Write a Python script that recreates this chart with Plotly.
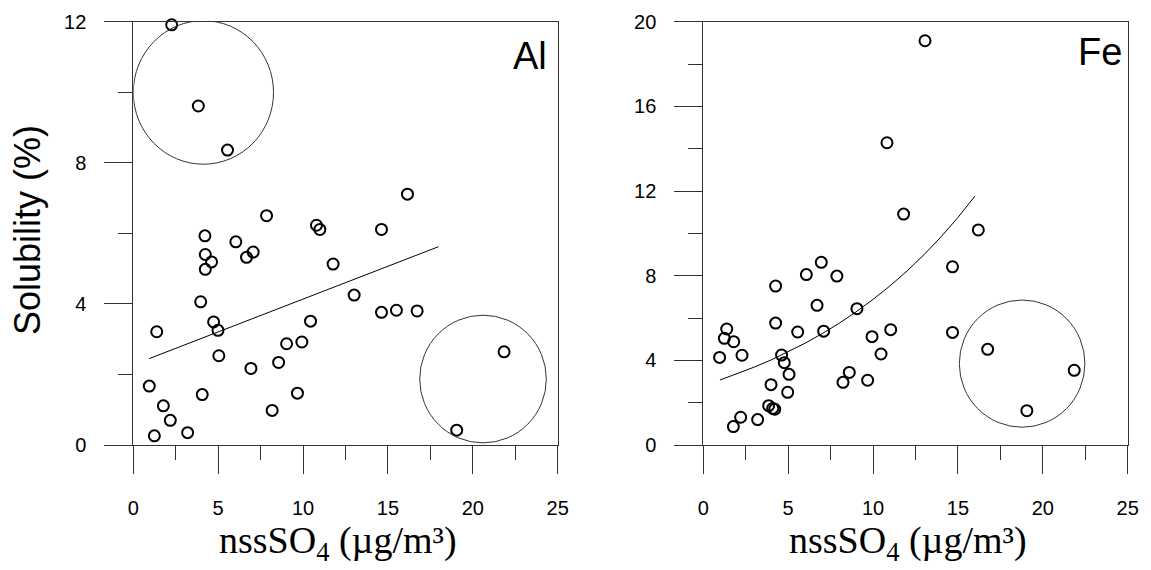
import plotly.graph_objects as go

# ---- data ----
al_x = [2.26, 3.83, 5.55, 7.85, 10.79, 10.99, 14.62, 4.22, 6.04, 4.24, 4.61, 4.24, 6.67, 7.06,
        11.77, 3.97, 13.01, 14.62, 15.50, 16.72, 16.15, 1.38, 4.73, 4.99, 10.44, 9.03, 9.93,
        5.04, 6.93, 8.56, 0.94, 4.06, 9.67, 1.77, 8.18, 2.18, 1.24, 3.20, 21.84, 19.05]
al_y = [11.91, 9.61, 8.36, 6.50, 6.23, 6.11, 6.11, 5.93, 5.76, 5.40, 5.19, 4.98, 5.32, 5.47,
        5.13, 4.06, 4.25, 3.76, 3.82, 3.80, 7.11, 3.21, 3.49, 3.25, 3.51, 2.87, 2.92,
        2.53, 2.17, 2.34, 1.67, 1.43, 1.47, 1.11, 0.98, 0.70, 0.26, 0.35, 2.64, 0.42]
al_fit_x = [0.94, 17.97]
al_fit_y = [2.45, 5.62]

fe_x = [13.06, 10.82, 11.80, 0.96, 1.38, 1.24, 1.79, 2.28, 1.77, 2.20, 3.20, 3.85, 4.09, 4.21,
        3.99, 4.97, 5.05, 4.77, 4.61, 4.26, 4.26, 5.56, 6.07, 6.95, 6.70, 7.09, 7.87, 9.05,
        8.60, 8.23, 9.68, 9.94, 10.47, 11.04, 16.20, 14.68, 14.68, 16.75, 21.85, 19.06]
fe_y = [19.10, 14.28, 10.91, 4.14, 5.48, 5.04, 4.88, 4.24, 0.87, 1.31, 1.20, 1.86, 1.73, 1.69,
        2.85, 2.49, 3.34, 3.89, 4.25, 5.76, 7.51, 5.34, 8.05, 8.63, 6.60, 5.38, 7.98, 6.44,
        3.43, 2.96, 3.06, 5.12, 4.30, 5.45, 10.16, 8.42, 5.32, 4.52, 3.53, 1.62]
fe_fit_x = [0.98, 2, 3, 4, 5, 6, 7, 8, 9, 10, 11, 12, 13, 14, 15, 16.0]
fe_fit_y = [3.07, 3.36, 3.68, 4.02, 4.40, 4.81, 5.26, 5.75, 6.29, 6.88, 7.52, 8.22, 8.99, 9.83, 10.75, 11.76]

# outlier circles (data coordinates): x0, x1, y0, y1
al_circles = [[0.0, 8.26, 7.96, 12.03], [16.87, 24.33, 0.06, 3.68]]
fe_circles = [[15.08, 22.48, 0.84, 6.85]]

x_ticks = [0, 5, 10, 15, 20, 25]
al_y_ticks = [0, 4, 8, 12]
fe_y_ticks = [0, 4, 8, 12, 16, 20]

W, H = 1151, 570
LC = "#333333"
marker = dict(symbol="circle-open", size=11, color="black", line=dict(width=2, color="black"))

fig = go.Figure()
fig.add_trace(go.Scatter(x=al_x, y=al_y, mode="markers", marker=marker, xaxis="x", yaxis="y",
                         cliponaxis=False, showlegend=False))
fig.add_trace(go.Scatter(x=al_fit_x, y=al_fit_y, mode="lines", line=dict(color="black", width=1),
                         xaxis="x", yaxis="y", showlegend=False))
fig.add_trace(go.Scatter(x=fe_x, y=fe_y, mode="markers", marker=marker, xaxis="x2", yaxis="y2",
                         cliponaxis=False, showlegend=False))
fig.add_trace(go.Scatter(x=fe_fit_x, y=fe_fit_y, mode="lines", line=dict(color="black", width=1),
                         xaxis="x2", yaxis="y2", showlegend=False))

shapes = []
for c in al_circles:
    shapes.append(dict(type="circle", xref="x", yref="y", x0=c[0], x1=c[1], y0=c[2], y1=c[3],
                       line=dict(color=LC, width=1)))
for c in fe_circles:
    shapes.append(dict(type="circle", xref="x2", yref="y2", x0=c[0], x1=c[1], y0=c[2], y1=c[3],
                       line=dict(color=LC, width=1)))

tickfont = dict(family="Arial, Liberation Sans, sans-serif", size=20, color="black")
ydom = [1 - 445 / H, 1 - 21.7 / H]


def xax(domain, anchor):
    return dict(domain=domain, range=[0, 25], tickvals=x_ticks, ticks="outside", ticklen=28,
                tickwidth=1, tickcolor=LC, minor=dict(dtick=2.5, tick0=0, ticks="outside", ticklen=14,
                                                      tickwidth=1, tickcolor=LC),
                showline=True, linecolor=LC, linewidth=1, mirror=True, showgrid=False,
                zeroline=False, tickfont=tickfont, ticklabelstandoff=17, fixedrange=True,
                automargin=False, anchor=anchor)


def yax(domain, rng, tv, anchor):
    return dict(domain=domain, range=rng, tickvals=tv, ticks="outside", ticklen=28, tickwidth=1,
                tickcolor=LC, minor=dict(dtick=2, tick0=0, ticks="outside", ticklen=14, tickwidth=1,
                                         tickcolor=LC),
                showline=True, linecolor=LC, linewidth=1, mirror=True, showgrid=False,
                zeroline=False, tickfont=tickfont, ticklabelstandoff=14, anchor=anchor, fixedrange=True,
                automargin=False)


xd1 = [133.3 / W, 557.7 / W]
xd2 = [703.3 / W, 1127.7 / W]

xtitle = "nssSO<sub>4</sub> (\u00b5g/m\u00b3)"
tfont = dict(family="Times New Roman, Liberation Serif, serif", size=38, color="black")
annotations = [
    dict(text="Al", xref="paper", yref="paper", x=549 / W, y=1 - 56 / H, xanchor="right",
         yanchor="middle", showarrow=False, font=dict(family="Arial, Liberation Sans", size=38, color="black")),
    dict(text="Fe", xref="paper", yref="paper", x=1124 / W, y=1 - 52 / H, xanchor="right",
         yanchor="middle", showarrow=False, font=dict(family="Arial, Liberation Sans", size=38, color="black")),
    dict(text="Solubility (%)", xref="paper", yref="paper", x=28 / W, y=1 - 230 / H, xanchor="center",
         yanchor="middle", textangle=-90, showarrow=False,
         font=dict(family="Arial, Liberation Sans", size=36, color="black")),
    dict(text=xtitle, xref="paper", yref="paper", x=337.5 / W, y=1 - 543 / H, xanchor="center",
         yanchor="middle", showarrow=False, font=tfont),
    dict(text=xtitle, xref="paper", yref="paper", x=(337.5 + 570) / W, y=1 - 543 / H, xanchor="center",
         yanchor="middle", showarrow=False, font=tfont),
]

fig.update_layout(
    width=W, height=H, margin=dict(l=0, r=0, t=0, b=0, autoexpand=False),
    paper_bgcolor="white", plot_bgcolor="white",
    xaxis=xax(xd1, "y"), yaxis=yax(ydom, [0, 12], al_y_ticks, "x"),
    xaxis2=xax(xd2, "y2"), yaxis2=yax(ydom, [0, 20], fe_y_ticks, "x2"),
    shapes=shapes, annotations=annotations, showlegend=False,
)

fig.write_html("out.html", config=dict(displayModeBar=False))
